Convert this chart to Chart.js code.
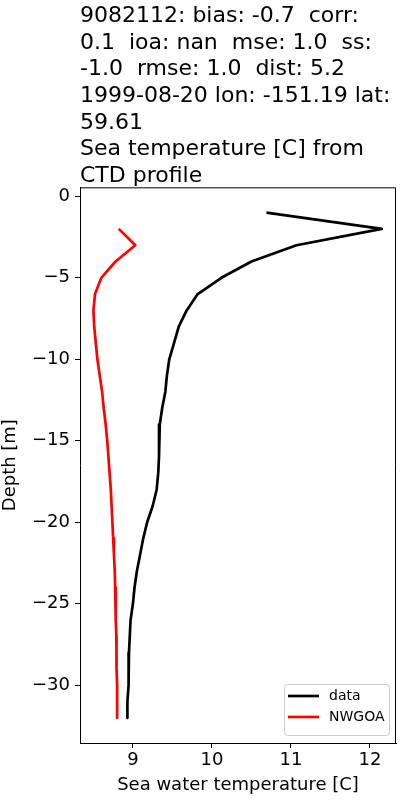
<!DOCTYPE html>
<html>
<head>
<meta charset="utf-8">
<script src="https://cdn.jsdelivr.net/npm/chart.js@4.4.0/dist/chart.umd.min.js"></script>
<style>
  body { margin: 0; background: #fff; }
</style>
</head>
<body>
<canvas id="profileChart" width="400" height="800"></canvas>
<script>
// Observed CTD profile
const dataDepth = [-1, -2, -3, -4, -5, -6, -7, -8, -9, -10, -11, -12, -13, -14, -15, -16,
                   -17, -18, -19, -20, -21, -22, -23, -24, -25, -26, -27, -28, -29, -30, -31, -32];
const dataTemp = [10.69, 12.15, 11.07, 10.50, 10.12, 9.82, 9.68, 9.58, 9.52, 9.46, 9.43, 9.41, 9.37, 9.34, 9.33, 9.33,
                  9.32, 9.30, 9.25, 9.18, 9.13, 9.09, 9.05, 9.02, 9.00, 8.97, 8.96, 8.95, 8.95, 8.94, 8.93, 8.93];

// NWGOA model profile
const modelDepth = [-2, -3, -4, -5, -6, -7, -8, -9, -10, -11, -12, -13, -14, -15, -16, -17,
                    -18, -19, -20, -21, -22, -23, -24, -25, -26, -27, -28, -29, -30, -31, -32];
const modelTemp = [8.82, 9.03, 8.78, 8.60, 8.52, 8.50, 8.51, 8.53, 8.55, 8.58, 8.61, 8.63, 8.655, 8.675, 8.69, 8.705,
                   8.72, 8.73, 8.74, 8.75, 8.76, 8.77, 8.775, 8.78, 8.785, 8.79, 8.79, 8.795, 8.80, 8.80, 8.80];

const xTicks = [9, 10, 11, 12];
const yTicks = [0, -5, -10, -15, -20, -25, -30];

const titleLines = [
    '9082112: bias: -0.7  corr:',
    '0.1  ioa: nan  mse: 1.0  ss:',
    '-1.0  rmse: 1.0  dist: 5.2',
    '1999-08-20 lon: -151.19 lat:',
    '59.61',
    'Sea temperature [C] from',
    'CTD profile'
];

const FONT = 'DejaVu Sans';

function toPoints(temps, depths) {
    return depths.map((d, i) => ({ x: temps[i], y: d }));
}

// top and right spines
const framePlugin = {
    id: 'frame',
    afterDraw(chart) {
        const a = chart.chartArea;
        const ctx = chart.ctx;
        ctx.save();
        ctx.strokeStyle = '#000';
        ctx.lineWidth = 1;
        ctx.beginPath();
        ctx.moveTo(a.left, a.top + 0.5);
        ctx.lineTo(a.right - 0.5, a.top + 0.5);
        ctx.lineTo(a.right - 0.5, a.bottom);
        ctx.stroke();
        ctx.restore();
    }
};

// matplotlib style legend, lower right inside the axes
const boxLegendPlugin = {
    id: 'boxLegend',
    afterDraw(chart) {
        const a = chart.chartArea;
        const ctx = chart.ctx;
        const sets = chart.data.datasets;
        const w = 105, rowH = 21;
        const h = 12 + rowH * sets.length - 3;
        const x = a.right - 7 - w;
        const y = a.bottom - 8 - h;
        ctx.save();
        ctx.beginPath();
        ctx.roundRect(x + 0.5, y + 0.5, w, h, 3);
        ctx.fillStyle = 'rgba(255,255,255,0.8)';
        ctx.fill();
        ctx.strokeStyle = '#cccccc';
        ctx.lineWidth = 1;
        ctx.stroke();
        ctx.font = '14px "' + FONT + '"';
        ctx.textBaseline = 'middle';
        ctx.fillStyle = '#000';
        sets.forEach((ds, i) => {
            const cy = y + 12 + rowH * i;
            ctx.beginPath();
            ctx.moveTo(x + 4, cy);
            ctx.lineTo(x + 35, cy);
            ctx.strokeStyle = ds.borderColor;
            ctx.lineWidth = 2.7;
            ctx.stroke();
            ctx.fillText(ds.label, x + 45, cy);
        });
        ctx.restore();
    }
};

new Chart(document.getElementById('profileChart'), {
    type: 'scatter',
    data: {
        datasets: [
            {
                label: 'data',
                data: toPoints(dataTemp, dataDepth),
                showLine: true,
                borderColor: '#000000',
                borderWidth: 2.7,
                borderJoinStyle: 'round',
                pointRadius: 0,
                fill: false
            },
            {
                label: 'NWGOA',
                data: toPoints(modelTemp, modelDepth),
                showLine: true,
                borderColor: '#ff0000',
                borderWidth: 2.7,
                borderJoinStyle: 'round',
                pointRadius: 0,
                fill: false
            }
        ]
    },
    options: {
        responsive: false,
        animation: false,
        layout: { padding: { top: 3, right: 4, left: 0, bottom: 0 } },
        plugins: {
            legend: { display: false },
            tooltip: { enabled: false },
            title: {
                display: true,
                text: titleLines,
                align: 'start',
                fullSize: false,
                color: '#000',
                font: { family: FONT, size: 22, weight: 'normal', lineHeight: 1.21 },
                padding: { top: 0, bottom: -2 }
            }
        },
        scales: {
            x: {
                type: 'linear',
                min: 8.33,
                max: 12.33,
                afterBuildTicks: s => { s.ticks = xTicks.map(v => ({ value: v })); },
                afterFit: s => { s.height = 57; },
                grid: { drawOnChartArea: false, color: '#000', tickLength: 5 },
                border: { color: '#000', width: 1 },
                ticks: { color: '#000', font: { family: FONT, size: 18 }, padding: 2, maxRotation: 0 },
                title: {
                    display: true,
                    text: 'Sea water temperature [C]',
                    color: '#000',
                    font: { family: FONT, size: 18 },
                    padding: { top: 0, bottom: 4 }
                }
            },
            y: {
                type: 'linear',
                min: -33.54,
                max: 0.55,
                afterBuildTicks: s => { s.ticks = yTicks.map(v => ({ value: v })); },
                afterFit: s => { s.width = 80; },
                grid: { drawOnChartArea: false, color: '#000', tickLength: 5 },
                border: { color: '#000', width: 1 },
                ticks: {
                    color: '#000',
                    font: { family: FONT, size: 18 },
                    padding: 5,
                    callback: v => String(v).replace('-', '\u2212')
                },
                title: {
                    display: true,
                    text: 'Depth [m]',
                    color: '#000',
                    font: { family: FONT, size: 18 },
                    padding: { top: 0, bottom: 0 }
                }
            }
        }
    },
    plugins: [framePlugin, boxLegendPlugin]
});
</script>
</body>
</html>
